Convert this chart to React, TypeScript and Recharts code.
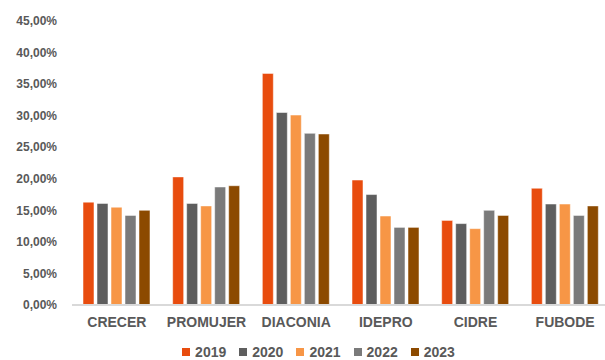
import { BarChart, Bar, XAxis, YAxis } from 'recharts';

const categories = ['CRECER', 'PROMUJER', 'DIACONIA', 'IDEPRO', 'CIDRE', 'FUBODE'];
const years = ['2019', '2020', '2021', '2022', '2023'];
const v2019 = [0.163, 0.203, 0.367, 0.198, 0.134, 0.185];
const v2020 = [0.161, 0.161, 0.305, 0.175, 0.129, 0.16];
const v2021 = [0.155, 0.157, 0.301, 0.141, 0.121, 0.16];
const v2022 = [0.142, 0.187, 0.272, 0.123, 0.15, 0.142];
const v2023 = [0.15, 0.189, 0.271, 0.123, 0.142, 0.157];
const yTicks = [0, 0.05, 0.1, 0.15, 0.2, 0.25, 0.3, 0.35, 0.4, 0.45];
const colors = ['#E84C0E', '#5E5E5E', '#F79646', '#7A7A7A', '#8C4A00'];

const seriesValues = [v2019, v2020, v2021, v2022, v2023];
const data = categories.map((name, i) => {
  const row: Record<string, string | number> = { name };
  years.forEach((y, k) => (row[y] = seriesValues[k][i]));
  return row;
});

const fmtPct = (v: number) => (v * 100).toFixed(2).replace('.', ',') + '%';

export default function App() {
  return (
    <div style={{ position: 'absolute', left: 0, top: 0, width: 605, height: 360, overflow: 'hidden', background: '#fff', fontFamily: 'Arial, "Liberation Sans", sans-serif' }}>
      <BarChart
        width={620}
        height={360}
        data={data}
        margin={{ top: 21, right: 10, left: 0, bottom: 0 }}
        barCategoryGap={11}
        barGap={3}
      >
        <XAxis
          dataKey="name"
          height={55}
          axisLine={{ stroke: '#D9D9D9', strokeWidth: 2 }}
          tickLine={false}
          tick={{ fill: '#595959', fontSize: 14, fontWeight: 700 }}
          dy={4}
        />
        <YAxis
          width={72}
          domain={[0, 0.45]}
          ticks={yTicks}
          tickFormatter={fmtPct}
          axisLine={false}
          tickLine={false}
          interval={0}
          tick={{ fill: '#595959', fontSize: 12, fontWeight: 700 }}
          dx={-7}
        />
        {years.map((y, k) => (
          <Bar
            key={y}
            dataKey={y}
            fill={colors[k]}
            stroke="#ffffff"
            strokeOpacity={0.5}
            isAnimationActive={false}
          />
        ))}
      </BarChart>
      <div style={{ position: 'absolute', top: 343, left: 16, width: 605, height: 17, display: 'flex', justifyContent: 'center', alignItems: 'center', gap: 13, fontSize: 14, lineHeight: '16px', fontWeight: 700, color: '#595959' }}>
        {years.map((y, k) => (
          <div key={y} style={{ display: 'flex', alignItems: 'center', gap: 5 }}>
            <span style={{ width: 8, height: 8, background: colors[k], display: 'inline-block' }} />
            <span>{y}</span>
          </div>
        ))}
      </div>
    </div>
  );
}
